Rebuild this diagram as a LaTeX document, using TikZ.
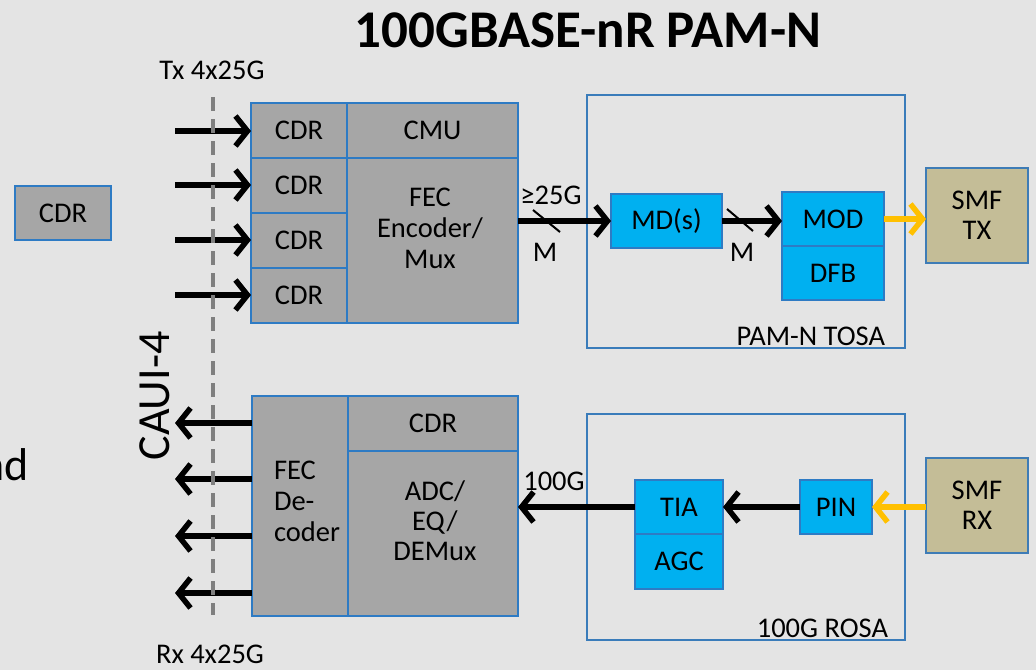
\documentclass[tikz,border=0pt]{standalone}
\usepackage{fontspec}
\setmainfont{Carlito}
\usetikzlibrary{arrows.meta}
\definecolor{bg}{HTML}{E4E4E4}
\definecolor{gbox}{HTML}{A6A6A6}
\definecolor{bline}{HTML}{2E7BC4}
\definecolor{cyanbox}{HTML}{00B0F0}
\definecolor{smf}{HTML}{C4BD97}
\definecolor{ylw}{HTML}{FFC000}
\definecolor{dashgray}{HTML}{7F7F7F}
\tikzset{
  base/.style={inner sep=0pt, outer sep=0pt, font=\fontsize{28.5}{32}\selectfont},
  graybox/.style={base, draw=bline, line width=2pt, fill=gbox},
  cyanb/.style={base, draw=bline, line width=1.5pt, fill=cyanbox},
  smfbox/.style={base, draw=bline!80!gray, line width=2pt, fill=smf, align=center},
  frame/.style={base, draw=bline!85!gray, line width=1.5pt},
  txt/.style={base, align=center},
  arr/.style={line width=5.5pt, -{Straight Barb[length=12pt,width=30pt]}},
  yarr/.style={arr, draw=ylw},
  slash/.style={line width=2pt},
}
\begin{document}
\begin{tikzpicture}[x=1pt,y=-1pt]
\useasboundingbox (0,0) rectangle (1036,670);
\fill[bg] (0,0) rectangle (1036,670);

% title and labels
\node[txt, font=\fontsize{53}{56}\bfseries\selectfont] (title) at (588,30) {100GBASE-nR PAM-N};
\node[txt] (txlab) at (212,70) {Tx 4x25G};
\node[txt] (rxlab) at (210,654) {Rx 4x25G};
\node[txt, font=\fontsize{46}{50}\selectfont, rotate=90] (caui) at (155,396) {CAUI-4};
\node[txt, font=\fontsize{46}{50}\selectfont, anchor=east] (nd) at (29,465) {nd};

% left lone CDR
\node[graybox, minimum width=96pt, minimum height=54pt] (cdrL) at (63,213) {CDR};

% Tx block
\node[graybox, minimum width=171pt, minimum height=165pt] (fec) at (432.5,240.5) {};
\node[graybox, minimum width=171pt, minimum height=55pt] (cmu) at (432.5,130.5) {CMU};
\node[graybox, minimum width=96pt, minimum height=55pt] (cdr1) at (299,130.5) {CDR};
\node[graybox, minimum width=96pt, minimum height=55pt] (cdr2) at (299,185.5) {CDR};
\node[graybox, minimum width=96pt, minimum height=55pt] (cdr3) at (299,240.5) {CDR};
\node[graybox, minimum width=96pt, minimum height=55pt] (cdr4) at (299,295.5) {CDR};
\node[txt] (fect) at (430,228) {FEC\\[-1pt]Encoder/\\[-1pt]Mux};

% Rx block
\node[graybox, minimum width=170pt, minimum height=165pt] (adc) at (433,533.5) {};
\node[graybox, minimum width=170pt, minimum height=55pt] (cdrR) at (433,423.5) {CDR};
\node[graybox, minimum width=96pt, minimum height=220pt] (fecd) at (300,506) {};
\node[txt, align=left, anchor=west] (fecdt) at (274,501) {FEC\\[-1pt]De-\\[-1pt]coder};
\node[txt] (adct) at (435,521) {ADC/\\[-2pt]EQ/\\[-2pt]DEMux};

% TOSA
\node[frame, minimum width=318pt, minimum height=253pt] (tosa) at (746,221.5) {};
\node[txt, anchor=south east] (tosal) at (885,346) {PAM-N TOSA};
\node[cyanb, minimum width=111pt, minimum height=54pt] (md) at (666.5,221) {MD(s)};
\node[cyanb, minimum width=102pt, minimum height=54pt] (mod) at (833,219) {MOD};
\node[cyanb, minimum width=102pt, minimum height=54pt] (dfb) at (833,273) {DFB};
\node[smfbox, minimum width=102pt, minimum height=95pt] (smftx) at (977,215.5) {SMF\\[-2pt]TX};

% ROSA
\node[frame, minimum width=318pt, minimum height=226pt] (rosa) at (746,527) {};
\node[txt, anchor=south east] (rosal) at (888,638) {100G ROSA};
\node[cyanb, minimum width=88pt, minimum height=54pt] (tia) at (679,507) {TIA};
\node[cyanb, minimum width=88pt, minimum height=55pt] (agc) at (679,561.5) {AGC};
\node[cyanb, minimum width=72pt, minimum height=54pt] (pin) at (836,507) {PIN};
\node[smfbox, minimum width=102pt, minimum height=95pt] (smfrx) at (977,505.5) {SMF\\[-2pt]RX};

% Tx input arrows
\foreach \i/\y in {1/131,2/185,3/240,4/295}{
  \coordinate (ti\i) at (175,\y);
  \draw[arr] (ti\i) -- (ti\i -| cdr\i.west);
}
% Rx output arrows
\foreach \i/\y in {1/423,2/479,3/536,4/593}{
  \coordinate (ro\i) at (175,\y);
  \draw[arr] (ro\i -| fecd.west) -- (ro\i);
}

% Tx path
\draw[arr] (fec.east |- md.west) -- (md.west);
\draw[slash] (533,210) -- (560,232);
\node[txt] (g25) at (551,195) {≥25G};
\node[txt] (m1) at (545,252) {M};
\draw[arr] (md.east) -- (mod.west |- md.east);
\draw[slash] (727,209) -- (753,231);
\node[txt] (m2) at (742,252) {M};
\draw[yarr] (mod.east) -- (smftx.west |- mod.east);

% Rx path
\draw[yarr] (smfrx.west |- pin.east) -- (pin.east);
\draw[arr] (pin.west) -- (tia.east);
\draw[arr] (tia.west) -- (adc.east |- tia.west);
\node[txt] (g100) at (554,481) {100G};

% CAUI dashed line
\coordinate (dtop) at (213,97);
\coordinate (dbot) at (213,615);
\draw[dashgray, line width=4pt, dash pattern=on 14pt off 8pt] (dtop) -- (dbot);
\end{tikzpicture}
\end{document}
